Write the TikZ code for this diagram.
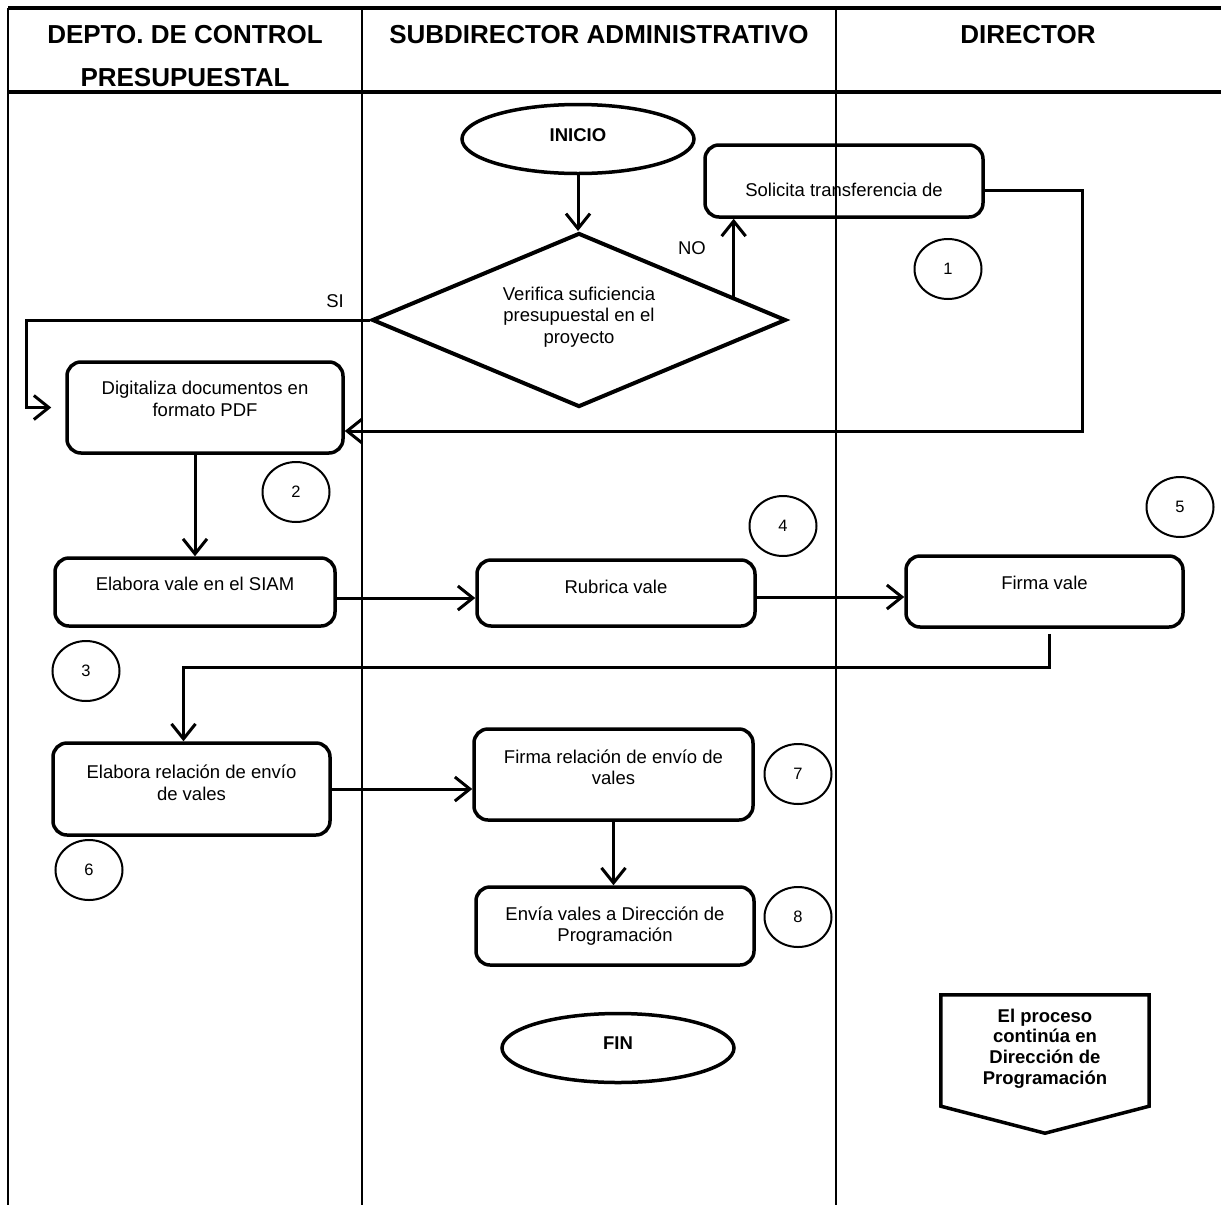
\documentclass[tikz,border=0pt]{standalone}
\usepackage{fontspec}
\setmainfont{Liberation Sans}
\usetikzlibrary{shapes.geometric,arrows.meta,calc}
\begin{document}
\begin{tikzpicture}[x=1pt,y=-1pt,
  lane/.style={line width=2pt},
  frameline/.style={line width=3.5pt},
  bodytext/.style={font=\fontsize{18.5}{21.3}\selectfont},
  proc/.style={draw, rectangle, rounded corners=14pt, line width=3.5pt, align=center, inner sep=0pt, minimum width=278pt, bodytext},
  term/.style={draw, ellipse, line width=3.5pt, inner sep=0pt, minimum width=232pt, minimum height=69pt, font=\fontsize{18.5}{21.3}\selectfont\bfseries},
  decision/.style={draw, diamond, line width=4pt, inner sep=0pt, shape aspect=2.38, minimum width=414pt, minimum height=174pt, align=center, bodytext},
  num/.style={draw, ellipse, line width=2pt, inner sep=0pt, minimum width=67pt, minimum height=60pt, font=\fontsize{16.5}{18}\selectfont},
  headtext/.style={font=\fontsize{26}{43}\selectfont\bfseries, align=center, inner sep=0pt, anchor=north},
  lbl/.style={bodytext, inner sep=0pt},
  arr/.style={line width=3pt, -{Straight Barb[length=15pt,width=24pt]}},
]
\useasboundingbox (0,0) rectangle (1221,1205);
% frame and lanes
\draw[frameline] (8,8) -- (1221,8);
\draw[frameline] (8,92) -- (1221,92);
\draw[lane] (8,8) -- (8,1205);
\draw[lane] (362,8) -- (362,1205);
\draw[lane] (836,8) -- (836,1205);
% headers
\node[headtext] (h1) at (185,25.4) {DEPTO. DE CONTROL\\PRESUPUESTAL};
\node[headtext] (h2) at (599,25.4) {SUBDIRECTOR ADMINISTRATIVO};
\node[headtext] (h3) at (1028,25.4) {DIRECTOR};
% nodes
\node[term, text height=13.4pt, text depth=9.4pt] (ini) at (578,139) {INICIO};
\node[decision, text height=56pt, text depth=10pt] (dec) at (579,320) {Verifica suficiencia\\presupuestal en el\\proyecto};
\node[proc, minimum height=72pt, text height=30pt, text depth=0pt] (sol) at (844,181) {Solicita transferencia de};
\node[proc, minimum width=276pt, minimum height=91pt, text height=34.7pt, text depth=17.7pt] (dig) at (205,407.5) {Digitaliza documentos en\\formato PDF};
\node[proc, minimum width=280pt, minimum height=68pt, text height=13.4pt, text depth=17.4pt] (ev) at (195,592) {Elabora vale en el SIAM};
\node[proc, minimum height=66pt, text height=13.4pt, text depth=13.4pt] (rub) at (616,593) {Rubrica vale};
\node[proc, minimum width=277pt, minimum height=71pt, text height=13.4pt, text depth=18.4pt] (fv) at (1044.5,591.5) {Firma vale};
\node[proc, minimum width=277pt, minimum height=92pt, text height=34.7pt, text depth=12.7pt] (er) at (191.5,789) {Elabora relación de envío\\de vales};
\node[proc, minimum width=279pt, minimum height=91pt, text height=34.7pt, text depth=15.1pt] (fr) at (613.5,774.5) {Firma relación de envío de\\vales};
\node[proc, minimum height=78pt, text height=34.7pt, text depth=4.1pt] (env) at (615,926) {Envía vales a Dirección de\\Programación};
\node[term, text height=13.4pt, text depth=11.4pt] (fin) at (618,1048) {FIN};
% step numbers
\node[num] (n1) at (948,269) {1};
\node[num] (n2) at (296,492) {2};
\node[num] (n3) at (86,671) {3};
\node[num] (n4) at (783,526) {4};
\node[num] (n5) at (1180,507) {5};
\node[num] (n6) at (89,870) {6};
\node[num] (n7) at (798,774) {7};
\node[num] (n8) at (798,917) {8};
% labels
\node[lbl] (nolbl) at (692,248) {NO};
\node[lbl] (silbl) at (335,301) {SI};
% off-page connector
\node[inner sep=0pt, minimum width=208pt, minimum height=138pt, align=center,
      font=\fontsize{18.5}{20.8}\selectfont\bfseries, text height=75.8pt, text depth=35pt]
      (cont) at (1045,1064) {El proceso\\continúa en\\Dirección de\\Programación};
\draw[line width=3.5pt] (cont.north west) -- (cont.north east) -- ([yshift=27pt]cont.south east)
   -- (cont.south) -- ([yshift=27pt]cont.south west) -- cycle;
% connectors
\draw[arr] (ini.south) -- (ini.south |- dec.north);
\coordinate (nostart) at ($(dec.north)!0.74!(dec.east)$);
\draw[arr] (nostart) -- (nostart |- sol.south);
\draw[arr] (dec.west) -| ([xshift=-39pt]dig.west) -- ([xshift=-14pt]dig.west);
\draw[arr] ([yshift=-9pt]sol.east) -| ([xshift=738pt,yshift=-23.5pt]dig.east) -- ([yshift=-23.5pt]dig.east);
\draw[arr] (dig.south -| ev.north) -- (ev.north);
\coordinate (a1) at ([yshift=-6pt]ev.east);
\draw[arr] (a1) -- (a1 -| rub.west);
\coordinate (a2) at ([yshift=-4pt]rub.east);
\draw[arr] (a2) -- (a2 -| fv.west);
\draw[arr] ([xshift=5pt,yshift=-5pt]fv.south) |- ([xshift=-8pt,yshift=74pt]er.north) -- ([xshift=-8pt]er.north);
\draw[arr] (er.east) -- (er.east -| fr.west);
\draw[arr] (fr.south) -- (fr.south |- env.north);
\end{tikzpicture}
\end{document}
